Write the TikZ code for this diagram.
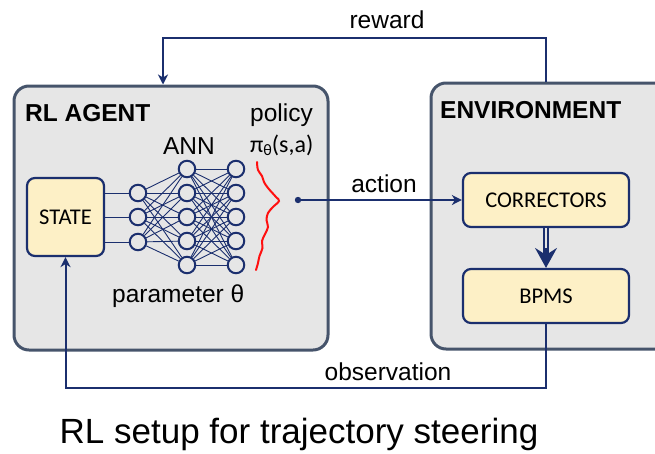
\documentclass[tikz,border=0pt]{standalone}
\usepackage{fontspec}
\setmainfont{Liberation Sans}
\newfontfamily\carlito{Carlito}
\usetikzlibrary{arrows.meta}
\definecolor{navy}{HTML}{1B2F6E}
\definecolor{slate}{HTML}{46546B}
\definecolor{panel}{HTML}{E6E6E6}
\definecolor{cream}{HTML}{FDF0C6}
\definecolor{wave}{HTML}{FF1010}
\tikzset{
  panelbox/.style={draw=slate, line width=3pt, fill=panel, rounded corners=15pt, inner sep=0pt},
  unitbox/.style={draw=navy, line width=2.2pt, fill=cream, rounded corners=8pt, inner sep=0pt,
    font=\carlito\fontsize{22.5}{26}\selectfont},
  neuron/.style={circle, draw=navy, line width=2pt, fill=panel, minimum size=16.5pt, inner sep=0pt},
  synapse/.style={navy, line width=0.9pt},
  flow/.style={navy, line width=2pt, -{Stealth[length=10pt,width=10pt,inset=3pt]}},
  lbl/.style={inner sep=0pt, font=\fontsize{24.5}{29}\selectfont},
  ttl/.style={inner sep=0pt, font=\bfseries\fontsize{24.5}{29}\selectfont},
}
\begin{document}
\begin{tikzpicture}[x=1pt,y=-1pt]
\useasboundingbox (0,0) rectangle (655,453);
\begin{scope}
\clip (0,0) rectangle (655,453);
% outer panels
\node[panelbox, minimum width=314pt, minimum height=264pt] (agent) at (171,218) {};
\node[panelbox, minimum width=240pt, minimum height=266pt] (env) at (551,216) {};
\end{scope}
\node[ttl, anchor=base west] (agenttitle) at (25,121) {RL AGENT};
\node[ttl, anchor=base west] (envtitle) at (440,118) {ENVIRONMENT};

% boxes
\node[unitbox, minimum width=77pt, minimum height=78pt] (state) at (65.5,217) {STATE};
\node[unitbox, minimum width=166pt, minimum height=54pt] (corr) at (546,200) {CORRECTORS};
\node[unitbox, minimum width=166pt, minimum height=54pt] (bpms) at (546,296) {BPMS};

% neural network
\foreach \k/\y in {1/193,2/217,3/242} \node[neuron] (i\k) at (138,\y) {};
\foreach \k/\y in {1/169,2/193,3/217,4/241,5/265} {
  \node[neuron] (h\k) at (187,\y) {};
  \node[neuron] (o\k) at (236,\y) {};
}
\foreach \k in {1,2,3} \draw[synapse] (state.east |- i\k) -- (i\k);
\foreach \a in {1,2,3} \foreach \b in {1,...,5} \draw[synapse] (i\a) -- (h\b);
\foreach \a in {1,...,5} \foreach \b in {1,...,5} \draw[synapse] (h\a) -- (o\b);

\node[lbl, anchor=base] (ann) at (189,154) {ANN};
\node[lbl, anchor=base west] (param) at (112,302) {parameter θ};
\node[lbl, anchor=base west] (policy) at (250,121) {policy};
\node[inner sep=0pt, anchor=base west, font=\carlito\fontsize{24}{28}\selectfont] (pi) at (250,152)
  {π\raisebox{-3pt}{\fontsize{16}{18}\selectfont θ}(s,a)};

% policy distribution
\draw[wave, line width=2pt, line cap=round] plot[smooth, tension=0.6] coordinates {
  (257,162) (258,170) (262,176) (264,182) (268,188) (276,197) (279,201)
  (273,207) (268,213) (266.5,220) (268,227) (265,234) (262,241) (262.5,248)
  (259.5,256) (258,263) (256,270)};

% action
\fill[navy] (298,200) circle (3.2pt) coordinate (act);
\draw[flow] (act) -- (corr.west);
\node[lbl, anchor=base] (actionlbl) at (384,192) {action};

% corrector -> bpm link: double shaft with a wide head
\path (bpms.north) ++(0,-20) coordinate (headbase);
\path (bpms.north) ++(0,-12) coordinate (shaftend);
\draw[navy, double=panel, double distance=2.4pt, line width=1.4pt] (corr.south) -- (shaftend);
\draw[navy, line width=1.4pt, -{Stealth[length=20pt,width=22pt,inset=7pt]}] (headbase) -- (bpms.north);

% reward loop
\coordinate (rtop) at (546,38);
\coordinate (rleft) at (163,38);
\draw[flow] (corr.north |- env.north) -- (rtop) -- (rleft) -- (rleft |- agent.north);
\node[lbl, anchor=base] (rewardlbl) at (387,28) {reward};

% observation loop
\coordinate (obot) at (546,388);
\draw[flow] (bpms.south) -- (obot) -- (obot -| state.south) -- (state.south);
\node[lbl, anchor=base] (obslbl) at (388,380) {observation};

% caption
\node[inner sep=0pt, anchor=base, font=\fontsize{35}{40}\selectfont] (caption) at (299,443)
  {RL setup for trajectory steering};
\end{tikzpicture}
\end{document}
